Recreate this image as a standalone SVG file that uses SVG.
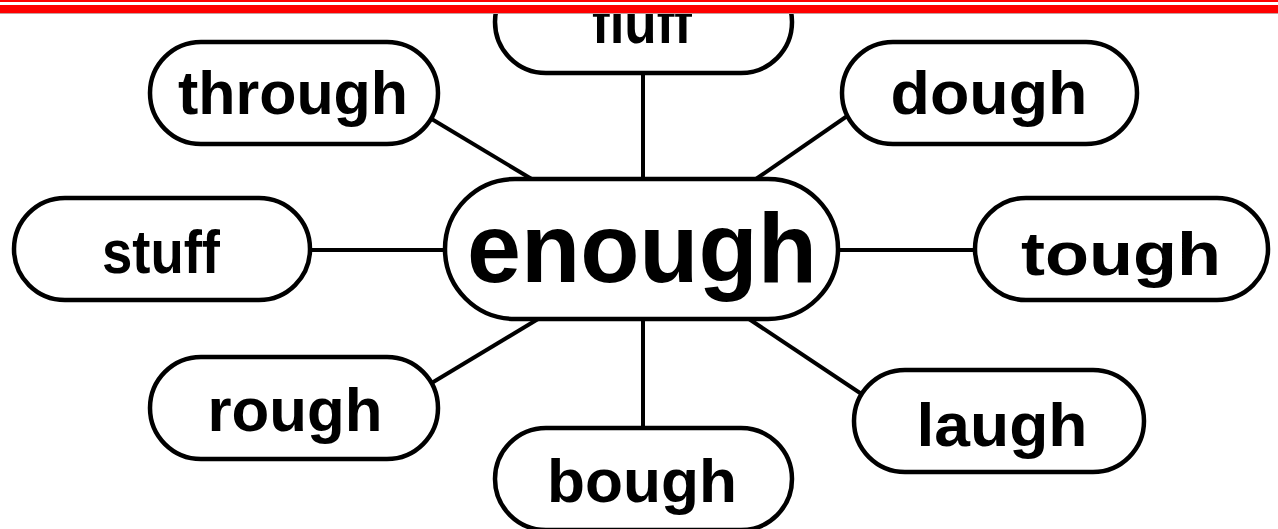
<svg xmlns="http://www.w3.org/2000/svg" width="1278" height="529" viewBox="0 0 1278 529">
<style>
.node rect{fill:#fff;stroke:#000;stroke-width:4.5}
.node text{font-family:"Liberation Sans",Arial,sans-serif;font-weight:bold;font-size:62px;fill:#000;text-anchor:middle}
#enough text{font-size:99px}
#connectors line{stroke:#000;stroke-width:4}
</style>
<rect x="0" y="0" width="1278" height="529" fill="#fff"/>
<g id="connectors">
<line x1="643" y1="60" x2="643" y2="190"/>
<line x1="643" y1="300" x2="643" y2="440"/>
<line x1="290" y1="250" x2="460" y2="250"/>
<line x1="820" y1="250" x2="990" y2="250"/>
<line x1="420" y1="112" x2="545" y2="187"/>
<line x1="866" y1="103" x2="740" y2="190"/>
<line x1="548" y1="313" x2="420" y2="390"/>
<line x1="740" y1="313" x2="872" y2="401"/>
</g>
<g id="fluff" class="node"><rect x="495" y="-29" width="297" height="102" rx="51"/><text x="642" y="43" textLength="100" lengthAdjust="spacingAndGlyphs">fluff</text></g>
<g id="through" class="node"><rect x="150" y="42" width="288" height="102" rx="51"/><text x="293" y="114" textLength="230" lengthAdjust="spacingAndGlyphs">through</text></g>
<g id="dough" class="node"><rect x="842" y="42" width="295" height="102" rx="51"/><text x="989" y="114" textLength="197" lengthAdjust="spacingAndGlyphs">dough</text></g>
<g id="stuff" class="node"><rect x="14" y="198" width="296" height="102" rx="51"/><text x="161" y="273" textLength="118" lengthAdjust="spacingAndGlyphs">stuff</text></g>
<g id="tough" class="node"><rect x="975" y="198" width="293" height="102" rx="51"/><text x="1121" y="275" textLength="200" lengthAdjust="spacingAndGlyphs">tough</text></g>
<g id="rough" class="node"><rect x="150" y="357" width="288" height="102" rx="51"/><text x="295" y="431" textLength="175" lengthAdjust="spacingAndGlyphs">rough</text></g>
<g id="laugh" class="node"><rect x="854" y="370" width="290" height="102" rx="51"/><text x="1002" y="446" textLength="171" lengthAdjust="spacingAndGlyphs">laugh</text></g>
<g id="bough" class="node"><rect x="495" y="428" width="297" height="102" rx="51"/><text x="642" y="502" textLength="190" lengthAdjust="spacingAndGlyphs">bough</text></g>
<g id="enough" class="node"><rect x="445" y="179" width="393" height="140" rx="70"/><text x="642" y="282" textLength="350" lengthAdjust="spacingAndGlyphs">enough</text></g>
<rect x="0" y="0" width="1278" height="14" fill="#ff0000"/>
<rect x="0" y="2" width="1278" height="3" fill="#fff"/>
<rect x="0" y="13" width="1278" height="1" fill="#c8a0a0"/>
</svg>
